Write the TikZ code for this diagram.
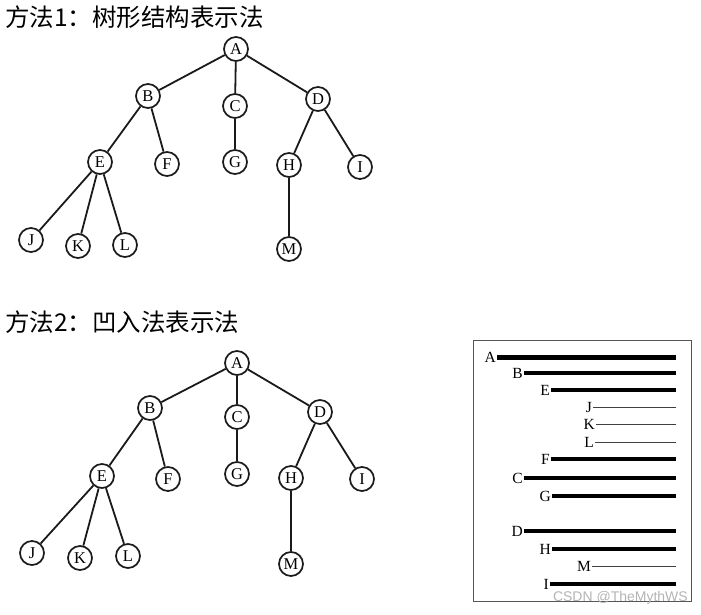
\documentclass[tikz,border=0pt]{standalone}
\usepackage{fontspec}
\setmainfont{Liberation Serif}
\newfontfamily\cjk{Noto Sans CJK SC}
\newfontfamily\wmfont{Liberation Sans}
\usepackage{tikz}
\usetikzlibrary{positioning}
\definecolor{linegray}{HTML}{1A1A1A}
\definecolor{framegray}{HTML}{555555}
\definecolor{markgray}{HTML}{B4B4B4}
\tikzset{
  % --- tree nodes and edges ---
  tnode/.style={circle, draw=linegray, line width=1.7pt, fill=white,
                minimum size=24pt, inner sep=0pt, font=\fontsize{16.5}{16.5}\selectfont},
  tedge/.style={draw=linegray, line width=1.8pt},
  % --- section headings ---
  heading/.style={anchor=west, inner sep=0pt, font=\cjk\fontsize{24.5}{26}\selectfont},
  % --- indented list on the right ---
  ilabel/.style={anchor=east, inner sep=1pt, font=\fontsize{15.5}{15.5}\selectfont},
  bar/.style={draw=black, line width=4pt},
  barA/.style={draw=black, line width=5pt},
  barE/.style={draw=black, line width=3.3pt},
  thinbar/.style={draw=black!75, line width=0.9pt},
}

\begin{document}
\begin{tikzpicture}[x=1pt, y=-1pt]
  \useasboundingbox (0,0) rectangle (701,615);

  % --- method 1: tree form ---
  \node[heading] (title1) at (5,17) {方法1：树形结构表示法};
  \node[tnode] (a1) at (236, 49) {A};
  \node[tnode] (b1) at (148, 96) {B};
  \node[tnode] (c1) at (235,106) {C};
  \node[tnode] (d1) at (318, 99) {D};
  \node[tnode] (e1) at (100,162) {E};
  \node[tnode] (f1) at (167,164) {F};
  \node[tnode] (g1) at (235,162) {G};
  \node[tnode] (h1) at (289,165) {H};
  \node[tnode] (i1) at (360,167) {I};
  \node[tnode] (j1) at ( 31,240) {J};
  \node[tnode] (k1) at ( 78,246) {K};
  \node[tnode] (l1) at (125,245) {L};
  \node[tnode] (m1) at (289,249) {M};
  \draw[tedge] (a1) -- (b1);  \draw[tedge] (a1) -- (c1);  \draw[tedge] (a1) -- (d1);
  \draw[tedge] (b1) -- (e1);  \draw[tedge] (b1) -- (f1);
  \draw[tedge] (c1) -- (g1);
  \draw[tedge] (d1) -- (h1);  \draw[tedge] (d1) -- (i1);
  \draw[tedge] (e1) -- (j1);  \draw[tedge] (e1) -- (k1);  \draw[tedge] (e1) -- (l1);
  \draw[tedge] (h1) -- (m1);

  % --- method 2: same tree, with the indented form beside it ---
  \node[heading] (title2) at (5,322) {方法2：凹入法表示法};
  \node[tnode] (a2) at (237,363) {A};
  \node[tnode] (b2) at (150,408) {B};
  \node[tnode] (c2) at (237,417) {C};
  \node[tnode] (d2) at (320,412) {D};
  \node[tnode] (e2) at (102,476) {E};
  \node[tnode] (f2) at (168,479) {F};
  \node[tnode] (g2) at (237,474) {G};
  \node[tnode] (h2) at (291,478) {H};
  \node[tnode] (i2) at (362,479) {I};
  \node[tnode] (j2) at ( 32,553) {J};
  \node[tnode] (k2) at ( 80,558) {K};
  \node[tnode] (l2) at (128,556) {L};
  \node[tnode] (m2) at (291,564) {M};
  \draw[tedge] (a2) -- (b2);  \draw[tedge] (a2) -- (c2);  \draw[tedge] (a2) -- (d2);
  \draw[tedge] (b2) -- (e2);  \draw[tedge] (b2) -- (f2);
  \draw[tedge] (c2) -- (g2);
  \draw[tedge] (d2) -- (h2);  \draw[tedge] (d2) -- (i2);
  \draw[tedge] (e2) -- (j2);  \draw[tedge] (e2) -- (k2);  \draw[tedge] (e2) -- (l2);
  \draw[tedge] (h2) -- (m2);

  % --- indented list box ---
  \node[draw=framegray, line width=1pt, minimum width=218pt, minimum height=261pt,
        inner sep=0pt] (frame) at (582,470.5) {};
  \coordinate (rend) at (676,0);
  \node[ilabel] (la) at (497,357) {A};
  \node[ilabel] (lb) at (524,373) {B};
  \node[ilabel] (le) at (551,390) {E};
  \node[ilabel] (lj) at (593,407) {J};
  \node[ilabel] (lk) at (596,424) {K};
  \node[ilabel] (ll) at (595,442) {L};
  \node[ilabel] (lf) at (551,459) {F};
  \node[ilabel] (lc) at (524,478) {C};
  \node[ilabel] (lg) at (552,496) {G};
  \node[ilabel] (ld) at (524,531) {D};
  \node[ilabel] (lh) at (552,549) {H};
  \node[ilabel] (lm) at (592,566) {M};
  \node[ilabel] (li) at (550,584) {I};
  \draw[barA]    (la.east) -- (la.east -| rend);
  \draw[bar]     (lb.east) -- (lb.east -| rend);
  \draw[barE]    (le.east) -- (le.east -| rend);
  \draw[thinbar] (lj.east) -- (lj.east -| rend);
  \draw[thinbar] (lk.east) -- (lk.east -| rend);
  \draw[thinbar] (ll.east) -- (ll.east -| rend);
  \draw[barE]    (lf.east) -- (lf.east -| rend);
  \draw[bar]     (lc.east) -- (lc.east -| rend);
  \draw[barE]    (lg.east) -- (lg.east -| rend);
  \draw[bar]     (ld.east) -- (ld.east -| rend);
  \draw[barE]    (lh.east) -- (lh.east -| rend);
  \draw[thinbar] (lm.east) -- (lm.east -| rend);
  \draw[barE]    (li.east) -- (li.east -| rend);
  \node[anchor=east, inner sep=0pt, text=markgray, font=\wmfont\fontsize{14}{14}\selectfont]
       (mark) at (688,598) {CSDN @TheMythWS};
\end{tikzpicture}
\end{document}
